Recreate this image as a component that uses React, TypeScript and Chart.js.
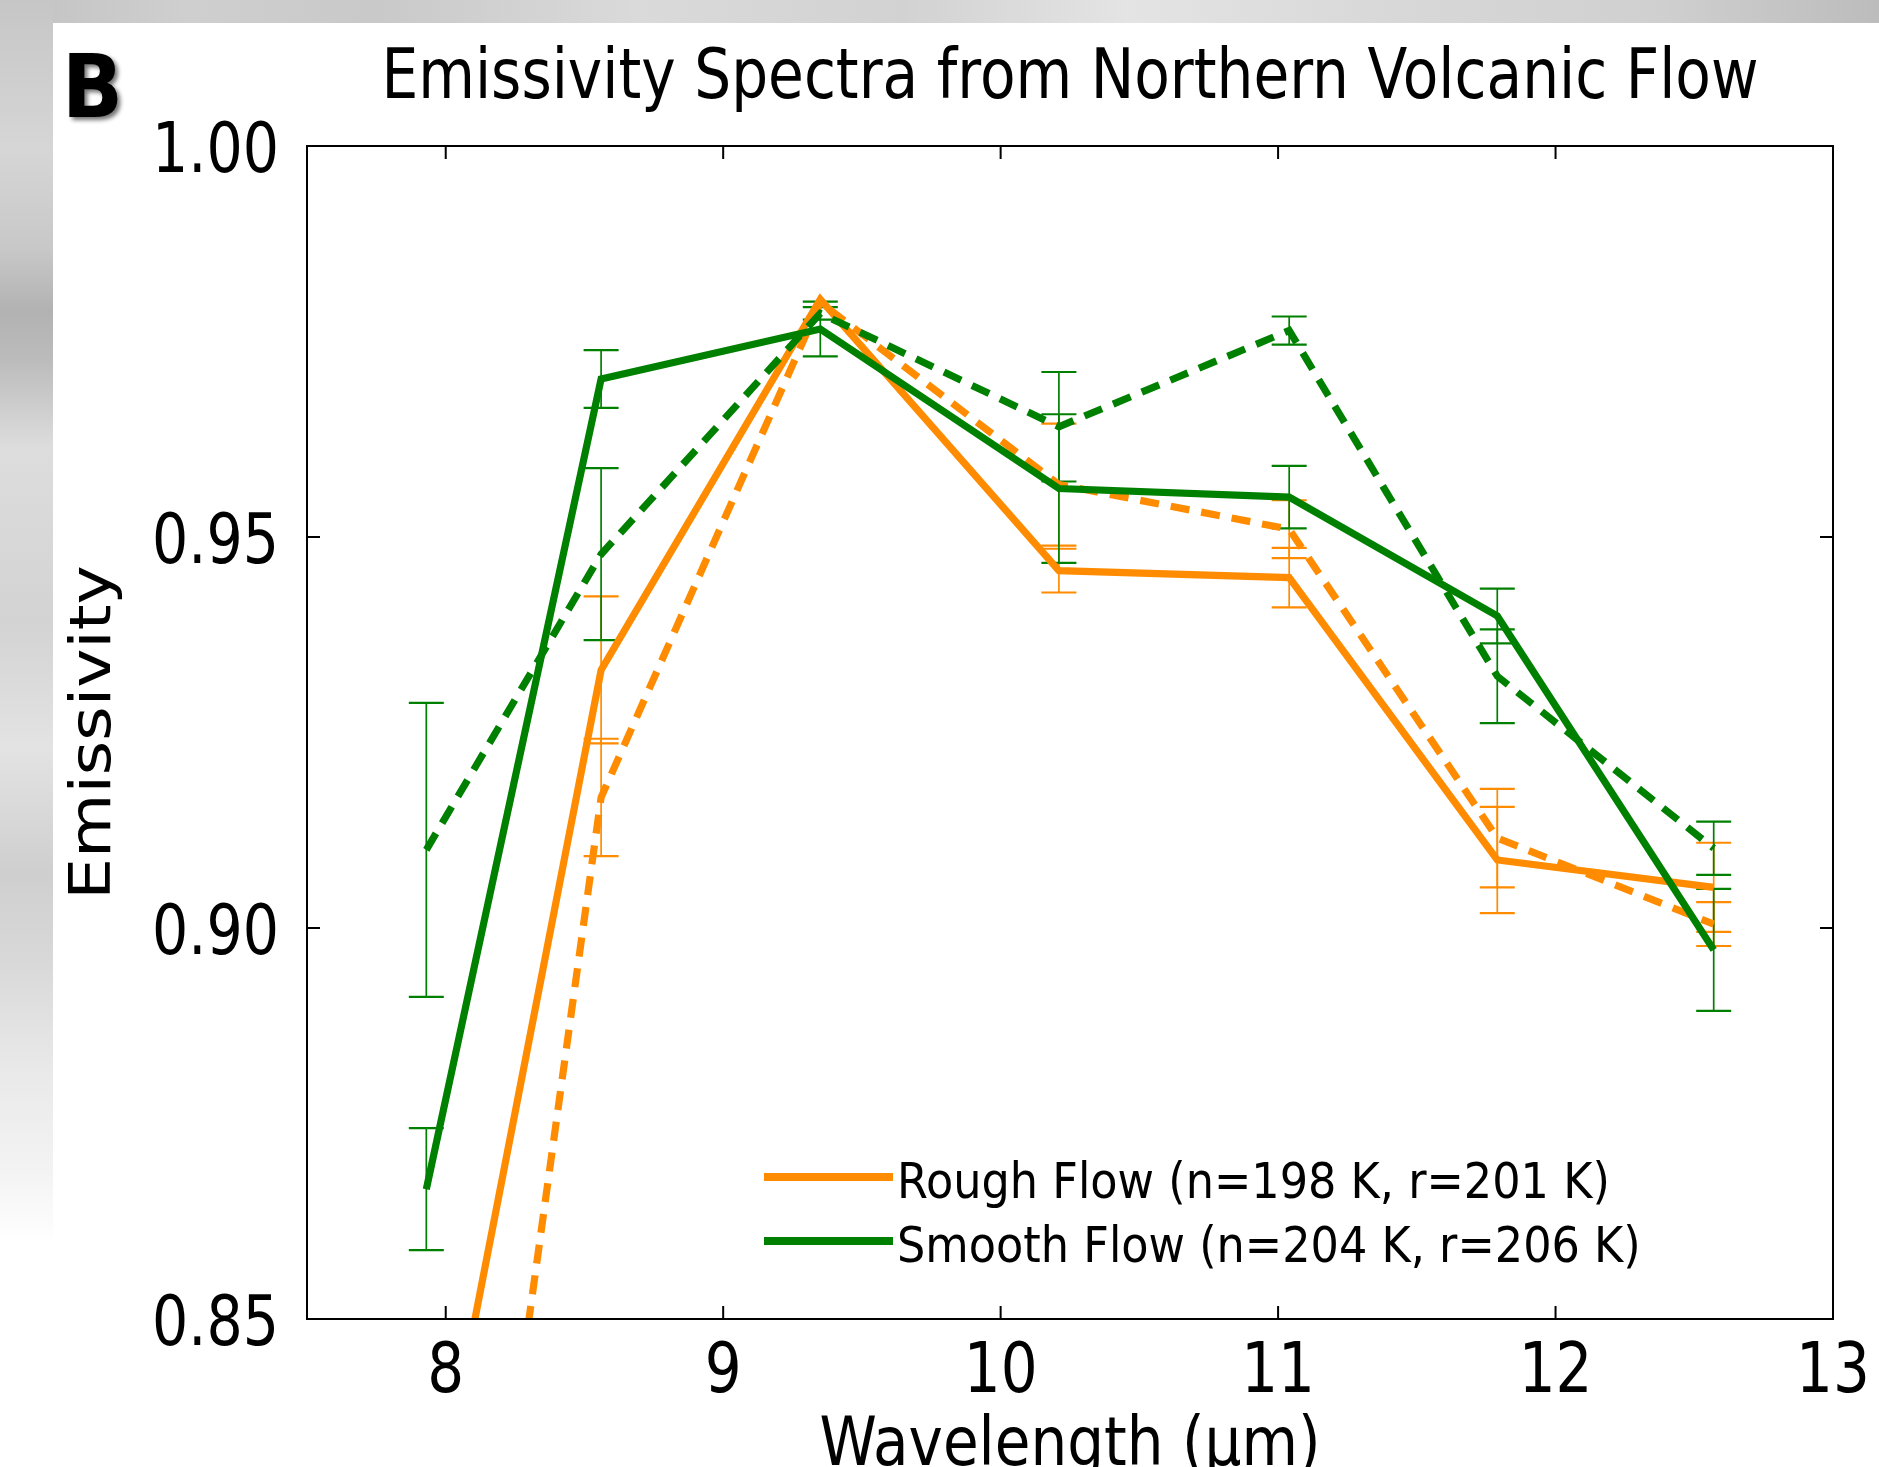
import React, { useEffect, useRef } from "react";
import { Chart, registerables } from "chart.js";

Chart.register(...registerables);

// ---- Data (THEMIS band centres, µm) ----
const wavelengths = [7.93, 8.56, 9.35, 10.21, 11.04, 11.79, 12.57];

// Rough flow
const roughN = [0.818, 0.933, 0.9804, 0.9457, 0.9448, 0.9087, 0.9052];
const roughNErr = [0.01, 0.0094, 0, 0.0028, 0.0038, 0.0068, 0.0057];
const roughR = [0.755, 0.9167, 0.98, 0.9567, 0.951, 0.9115, 0.9005];
const roughRErr = [0.01, 0.0075, 0, 0.0078, 0.0037, 0.0063, 0.0028];

// Smooth flow
const smoothN = [0.8666, 0.9702, 0.9766, 0.9562, 0.9551, 0.9399, 0.8972];
const smoothNErr = [0.0078, 0.0037, 0.0035, 0.0095, 0.004, 0.0035, 0.0078];
const smoothR = [0.91, 0.9478, 0.9786, 0.9641, 0.9764, 0.9322, 0.9102];
const smoothRErr = [0.0188, 0.011, 0.0008, 0.007, 0.0018, 0.006, 0.0034];

const xTicks = [8, 9, 10, 11, 12, 13];
const yTicks = [0.85, 0.9, 0.95, 1.0];

const titleText = "Emissivity Spectra from Northern Volcanic Flow";
const xLabel = "Wavelength (µm)";
const yLabel = "Emissivity";
const panelLabel = "B";
const legendLabels = ["Rough Flow (n=198 K, r=201 K)", "Smooth Flow (n=204 K, r=206 K)"];

const ORANGE = "#FF8C00";
const GREEN = "#008000";
const FONT = '"DejaVu Sans", "Noto Sans", sans-serif';

function pts(vals: number[]) {
  return wavelengths.map((x, i) => ({ x, y: vals[i] }));
}

function drawText(
  ctx: CanvasRenderingContext2D,
  text: string,
  x: number,
  y: number,
  size: number,
  stretch: number,
  align: CanvasTextAlign,
  weight = "normal",
  rotate = false
) {
  ctx.save();
  ctx.translate(x, y);
  if (rotate) {
    ctx.rotate(-Math.PI / 2);
    ctx.scale(stretch, 1);
  } else {
    ctx.scale(1, stretch);
  }
  ctx.font = `${weight} ${size}px ${FONT}`;
  ctx.textAlign = align;
  ctx.textBaseline = "alphabetic";
  ctx.fillStyle = "#000";
  ctx.fillText(text, 0, 0);
  ctx.restore();
}

const decor = {
  id: "decor",
  beforeDatasetsDraw(chart: any) {
    const ctx = chart.ctx as CanvasRenderingContext2D;
    const a = chart.chartArea;
    const ys = chart.scales.y;
    ctx.save();
    ctx.beginPath();
    ctx.rect(a.left, a.top, a.right - a.left, a.bottom - a.top);
    ctx.clip();
    // draw in reverse dataset order so dataset 0 ends on top
    for (let di = chart.data.datasets.length - 1; di >= 0; di--) {
      const ds: any = chart.data.datasets[di];
      const meta = chart.getDatasetMeta(di);
      ctx.strokeStyle = ds.borderColor;
      meta.data.forEach((p: any, i: number) => {
        const v = ds.data[i].y;
        const e = ds.errors[i];
        if (!e) return;
        const y1 = ys.getPixelForValue(v + e);
        const y2 = ys.getPixelForValue(v - e);
        const x = p.x;
        ctx.lineWidth = 1.7;
        ctx.beginPath();
        ctx.moveTo(x, y1);
        ctx.lineTo(x, y2);
        ctx.stroke();
        ctx.lineWidth = 2.2;
        ctx.beginPath();
        ctx.moveTo(x - 17.5, y1);
        ctx.lineTo(x + 17.5, y1);
        ctx.moveTo(x - 17.5, y2);
        ctx.lineTo(x + 17.5, y2);
        ctx.stroke();
      });
    }
    ctx.restore();
  },
  afterDatasetsDraw(chart: any) {
    const ctx = chart.ctx as CanvasRenderingContext2D;
    const a = chart.chartArea;
    const xs = chart.scales.x;
    const ys = chart.scales.y;
    ctx.save();
    ctx.strokeStyle = "#000";
    ctx.lineWidth = 2;
    ctx.strokeRect(a.left, a.top, a.right - a.left, a.bottom - a.top);
    const tl = 13;
    ctx.beginPath();
    xTicks.forEach((v) => {
      const px = xs.getPixelForValue(v);
      ctx.moveTo(px, a.bottom);
      ctx.lineTo(px, a.bottom - tl);
      ctx.moveTo(px, a.top);
      ctx.lineTo(px, a.top + tl);
    });
    yTicks.forEach((v) => {
      const py = ys.getPixelForValue(v);
      ctx.moveTo(a.left, py);
      ctx.lineTo(a.left + tl, py);
      ctx.moveTo(a.right, py);
      ctx.lineTo(a.right - tl, py);
    });
    ctx.stroke();
    ctx.restore();
  },
  afterDraw(chart: any) {
    const ctx = chart.ctx as CanvasRenderingContext2D;
    const a = chart.chartArea;
    const xs = chart.scales.x;
    const ys = chart.scales.y;
    const cx = (a.left + a.right) / 2;
    const cy = (a.top + a.bottom) / 2;

    // tick labels
    xTicks.forEach((v) => {
      drawText(ctx, String(v), xs.getPixelForValue(v), 1392, 58, 1.19, "center");
    });
    yTicks.forEach((v) => {
      drawText(ctx, v.toFixed(2), 279, ys.getPixelForValue(v) + 26, 57, 1.23, "right");
    });

    // title & axis labels
    drawText(ctx, titleText, cx, 98, 58.2, 1.19, "center");
    drawText(ctx, xLabel, cx, 1465, 58, 1.18, "center");
    drawText(ctx, yLabel, 110, cy, 57, 1.16, "center", "normal", true);

    // panel label with shadow
    ctx.save();
    ctx.shadowColor = "rgba(0,0,0,0.55)";
    ctx.shadowOffsetX = 3;
    ctx.shadowOffsetY = 3;
    ctx.shadowBlur = 4;
    drawText(ctx, panelLabel, 62, 117, 80, 1.08, "left", "bold");
    ctx.restore();

    // legend
    const legendColors = [ORANGE, GREEN];
    const legendY = [1177, 1241];
    legendLabels.forEach((lab, i) => {
      ctx.save();
      ctx.strokeStyle = legendColors[i];
      ctx.lineWidth = 8;
      ctx.beginPath();
      ctx.moveTo(764, legendY[i]);
      ctx.lineTo(893, legendY[i]);
      ctx.stroke();
      ctx.restore();
      drawText(ctx, lab, 897, legendY[i] + 21, 44.6, 1.1, "left");
    });
  },
};

export default function App() {
  const ref = useRef<HTMLCanvasElement | null>(null);

  useEffect(() => {
    document.body.style.margin = "0";
    const canvas = ref.current;
    if (!canvas) return;
    const mk = (label: string, vals: number[], errs: number[], color: string, dashed: boolean) => ({
      label,
      data: pts(vals),
      errors: errs,
      borderColor: color,
      backgroundColor: color,
      borderWidth: 7.2,
      borderDash: dashed ? [19, 12] : [],
      borderJoinStyle: "miter",
      borderCapStyle: "butt",
      pointRadius: 0,
      fill: false,
      tension: 0,
      clip: 0,
    });
    const chart = new Chart(canvas, {
      type: "line",
      data: {
        datasets: [
          mk("Smooth Flow r", smoothR, smoothRErr, GREEN, true),
          mk("Smooth Flow n", smoothN, smoothNErr, GREEN, false),
          mk("Rough Flow r", roughR, roughRErr, ORANGE, true),
          mk("Rough Flow n", roughN, roughNErr, ORANGE, false),
        ] as any,
      },
      options: {
        responsive: false,
        animation: false,
        devicePixelRatio: 1,
        layout: { padding: { left: 307, right: 46, top: 146, bottom: 148 } },
        scales: {
          x: { type: "linear", min: 7.5, max: 13, display: false },
          y: { type: "linear", min: 0.85, max: 1.0, display: false },
        },
        plugins: {
          legend: { display: false },
          tooltip: { enabled: false },
          title: { display: false },
        },
        elements: { point: { radius: 0 } },
      },
      plugins: [decor],
    } as any);
    return () => chart.destroy();
  }, []);

  return (
    <div
      style={{
        position: "absolute",
        left: 0,
        top: 0,
        width: 1879,
        height: 1467,
        background: "#ffffff",
        overflow: "hidden",
      }}
    >
      <div
        style={{
          position: "absolute",
          left: 0,
          top: 0,
          width: 1879,
          height: 23,
          background:
            "linear-gradient(90deg, #c2c2c2 0%, #cfcfcf 10%, #c9c9c9 20%, #dadada 34%, #d2d2d2 48%, #e4e4e4 60%, #d8d8d8 74%, #d0d0d0 88%, #bcbcbc 100%)",
        }}
      />
      <div
        style={{
          position: "absolute",
          left: 0,
          top: 0,
          width: 53,
          height: 1245,
          background:
            "linear-gradient(180deg, #c6c6c6 0%, #d6d6d6 12%, #c8c8c8 20%, #b2b2b2 25%, #bcbcbc 29%, #dddddd 36%, #d3d3d3 50%, #e3e3e3 60%, #cfcfcf 70%, #d8d8d8 77%, #e9e9e9 86%, #f3f3f3 94%, #ffffff 100%)",
        }}
      />
      <canvas
        ref={ref}
        width={1879}
        height={1467}
        style={{ position: "absolute", left: 0, top: 0 }}
      />
    </div>
  );
}
